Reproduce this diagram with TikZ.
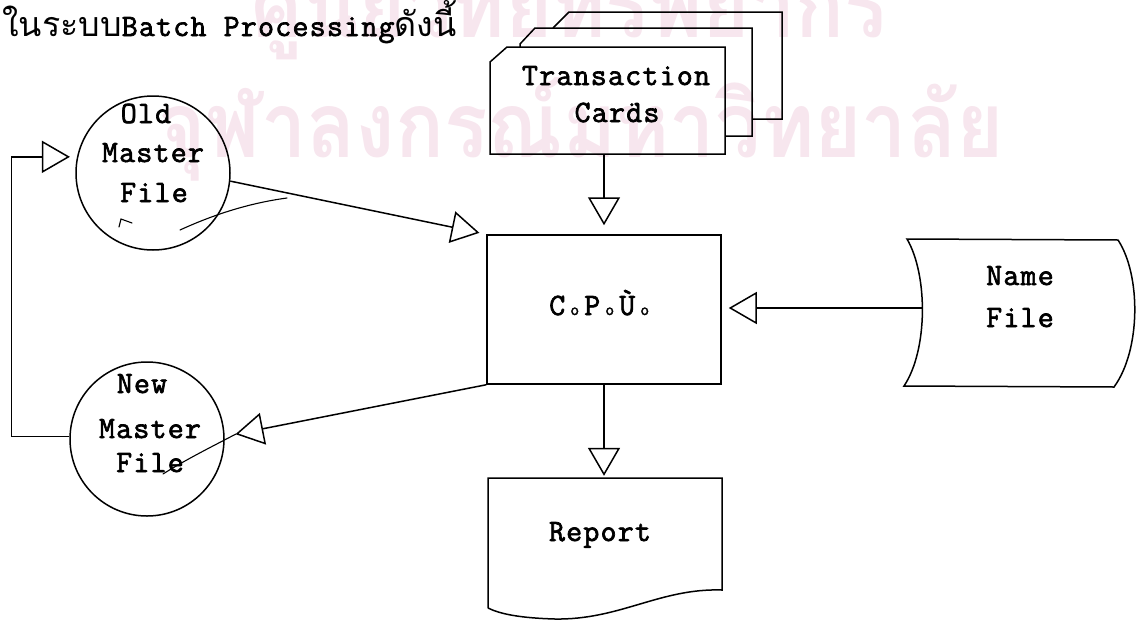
\documentclass[tikz,border=0pt]{standalone}
\usepackage{fontspec}
\usepackage{graphicx}
\usetikzlibrary{arrows.meta}
\newfontfamily\tw{Latin Modern Mono}[LetterSpace=4, FakeBold=2.2]
\newfontfamily\thaitw[Script=Thai]{Loma}
\newfontfamily\wmfont[Script=Thai]{Loma}
\definecolor{stamp}{RGB}{247,230,238}
\newcommand\cpudot{\makebox[17.5pt]{\fontsize{17}{17}\selectfont o}}
\newcommand\twchar[1]{\makebox[17.5pt]{#1}}

\begin{document}
\begin{tikzpicture}[x=1pt,y=-1pt,
  ink/.style={line width=1.5pt, line join=miter},
  pen/.style={line width=1.1pt, line cap=round},
  lbl/.style={font=\tw\fontsize{31}{31}\selectfont, inner sep=0pt, anchor=base},
  flow/.style={ink, -{Triangle[open,length=28pt,width=32pt]}},
  hidden/.style={inner sep=0pt, draw=none}]
\useasboundingbox (0,0) rectangle (1139,621);

% stamped background lettering
\begin{scope}
  \clip (0,0) rectangle (1139,621);
  \node[anchor=base west, inner sep=0pt, text=stamp] (wm2) at (158,157)
    {\scalebox{0.89}[1]{\wmfont\bfseries\fontsize{91}{91}\selectfont จุฬาลงกรณ์มหาวิทยาลัย}};
  \node[anchor=base, inner sep=0pt, text=stamp] (wm1) at (570,37)
    {\scalebox{0.89}[1]{\wmfont\bfseries\fontsize{91}{91}\selectfont ศูนย์วิทยทรัพยากร}};
\end{scope}

% heading line
\node[anchor=base west, inner sep=0pt] (heading) at (2,36)
  {{\thaitw\fontsize{34}{34}\selectfont ในระบบ}{\tw\fontsize{31}{31}\selectfont Batch Processing}{\thaitw\fontsize{34}{34}\selectfont ดังนี้}};

% stack of transaction cards
\node[hidden, minimum width=235pt, minimum height=107pt] (cards) at (607.5,100.5) {};
\draw[ink] (553,28) -- (569,12) -- (782,12) -- (782,119) -- (752,119);
\draw[ink] (520,47) -- (520,44) -- (535,28) -- (752,28) -- (752,136) -- (725,136);
\draw[ink] (490,62) -- (507,47) -- (725,47) -- (725,154) -- (490,154) -- cycle;
\node[lbl] (cardsA) at (616,85) {Transaction};
\node[lbl] (cardsB) at (617,122) {Car\"{d}s};

% processor
\node[draw, ink, minimum width=234pt, minimum height=149pt, inner sep=0pt] (cpu) at (604,309.5) {};
\node[lbl] (cputxt) at (601,315) {\twchar{C}\cpudot\twchar{P}\cpudot\twchar{Ù}\cpudot};

% name file (stored data)
\node[hidden, minimum width=211pt, minimum height=147pt] (namefile) at (1012,312) {};
\draw[ink] (907,239) -- (1118,240) .. controls (1141,275) and (1141,350) .. (1114,387)
  -- (904,386) .. controls (928,350) and (928,275) .. (907,239) -- cycle;
\coordinate (nfW) at (922,308);
\node[lbl] (nameA) at (1020,285) {Name};
\node[lbl] (nameB) at (1020,327) {File};

% report document
\node[hidden, minimum width=234pt, minimum height=140pt] (report) at (604,548) {};
\draw[ink] (488,608) -- (488,478) -- (722,478) -- (722,590)
  .. controls (660,588) and (620,620) .. (555,619)
  .. controls (520,618) and (500,614) .. (488,608);
\node[lbl] (reportA) at (600,541) {Report};

% master files
\node[draw, ink, circle, minimum size=154pt, inner sep=0pt] (oldm) at (153,173) {};
\node[lbl] (oldA) at (146,123) {Old};
\node[lbl] (oldB) at (153,162) {Master};
\node[lbl] (oldC) at (154,202) {File};

\node[draw, ink, circle, minimum size=154pt, inner sep=0pt] (newm) at (147,439) {};
\node[lbl] (newA) at (142,393) {New};
\node[lbl] (newB) at (150,438) {Master};
\node[lbl] (newC) at (150,472) {File};

% flow lines
\draw[flow, shorten >=9pt] (cards.south -| cpu.north) -- (cpu.north);
\draw[flow, shorten >=7pt] (nfW) -- (cpu.east |- nfW);
\draw[flow, shorten >=2pt] (cpu.south) -- (report.north);
\draw[flow, shorten >=7pt] (oldm.-6) -- (cpu.north west);
\draw[flow, shorten >=11pt] (cpu.south west) -- (newm.2);
\draw[flow, shorten >=7pt] (newm.178) -- ++(-58,0) |- (oldm.168);

% pencil strokes
\draw[pen] (180,230) .. controls (215,214) and (250,203) .. (287,198);
\draw[pen] (119,227) -- (121,219) -- (132,223);
\draw[pen] (236,434) .. controls (215,445) and (185,460) .. (163,474);
\end{tikzpicture}
\end{document}
